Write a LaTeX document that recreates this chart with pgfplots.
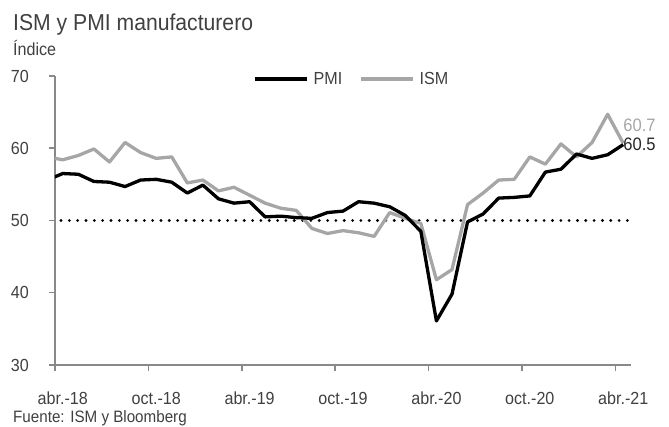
\documentclass[border=0pt]{standalone}
\usepackage{fontspec}
\setmainfont{Liberation Sans}[FakeStretch=0.92]
\usepackage{pgfplots}
\pgfplotsset{compat=1.18}
\definecolor{txt}{HTML}{404040}
\definecolor{ismgray}{HTML}{A6A6A6}
\definecolor{axgray}{HTML}{898989}
\begin{document}
\begin{tikzpicture}
\path[use as bounding box] (0,0) rectangle (669bp,427bp);
\node[anchor=base west,inner sep=0pt,text=txt,font=\fontsize{23bp}{27bp}\selectfont] at (13bp,396.5bp) {ISM y PMI manufacturero};
\node[anchor=base west,inner sep=0pt,text=txt,font=\fontsize{17.5bp}{21bp}\selectfont] at (13bp,371bp) {Índice};
\node[anchor=base west,inner sep=0pt,text=txt,font=\fontsize{16.5bp}{20bp}\selectfont] at (13bp,4.5bp) {Fuente: ISM y Bloomberg};
\begin{axis}[
  at={(55bp,62bp)}, anchor=south west,
  scale only axis, width=576bp, height=289bp,
  xmin=0.5, xmax=37.5, ymin=30, ymax=70,
  axis x line*=bottom, axis y line*=left,
  axis line style={axgray, line width=1.5bp},
  xtick={0.5,6.5,12.5,18.5,24.5,30.5,36.5},
  xticklabels={abr.-18,oct.-18,abr.-19,oct.-19,abr.-20,oct.-20,abr.-21},
  ytick={30,40,50,60,70},
  tick align=outside, major tick length=6bp,
  tick style={axgray, line width=1.5bp},
  /pgf/number format/assume math mode=true,
  xticklabel style={anchor=base, inner sep=0pt, yshift=-33.7bp, xshift=7.8bp, text=txt, font=\fontsize{17.5bp}{21bp}\selectfont},
  yticklabel style={anchor=east, inner sep=0pt, xshift=-20bp, text=txt, font=\fontsize{17.5bp}{21bp}\selectfont},
  legend style={at={(0.344,0.99)}, anchor=west, draw=none, fill=none, inner sep=0pt,
    legend columns=2, font=\fontsize{17.5bp}{21bp}\selectfont, text=txt,
    nodes={inner sep=0pt},
    /tikz/every odd column/.append style={column sep=5bp},
    /tikz/every even column/.append style={column sep=17bp}},
  legend image code/.code={\draw[#1] (0bp,0bp) -- (52bp,0bp);},
]
\addplot[black, line width=3.1bp, dash pattern=on 0bp off 8.33bp, dash phase=2.33bp, line cap=round, forget plot] coordinates {(0.5,50) (37.5,50)};
\addplot[ismgray, line width=3.3bp, line join=round, forget plot] table[row sep=\\] {
x y \\
0 58.8 \\ 1 58.4 \\ 2 59.0 \\ 3 59.9 \\ 4 58.1 \\ 5 60.8 \\ 6 59.4 \\ 7 58.6 \\
8 58.8 \\ 9 55.2 \\ 10 55.6 \\ 11 54.1 \\ 12 54.6 \\ 13 53.5 \\ 14 52.4 \\ 15 51.7 \\
16 51.4 \\ 17 48.9 \\ 18 48.2 \\ 19 48.6 \\ 20 48.3 \\ 21 47.8 \\ 22 51.1 \\ 23 50.3 \\
24 49.6 \\ 25 41.8 \\ 26 43.2 \\ 27 52.2 \\ 28 53.8 \\ 29 55.6 \\ 30 55.7 \\ 31 58.8 \\
32 57.8 \\ 33 60.6 \\ 34 58.8 \\ 35 60.8 \\ 36 64.7 \\ 37 60.7 \\
};
\addplot[black, line width=3.3bp, line join=round, forget plot] table[row sep=\\] {
x y \\
0 55.6 \\ 1 56.5 \\ 2 56.4 \\ 3 55.4 \\ 4 55.3 \\ 5 54.7 \\ 6 55.6 \\ 7 55.7 \\
8 55.3 \\ 9 53.8 \\ 10 54.9 \\ 11 53.0 \\ 12 52.4 \\ 13 52.6 \\ 14 50.5 \\ 15 50.6 \\
16 50.4 \\ 17 50.3 \\ 18 51.1 \\ 19 51.3 \\ 20 52.6 \\ 21 52.4 \\ 22 51.9 \\ 23 50.7 \\
24 48.5 \\ 25 36.1 \\ 26 39.8 \\ 27 49.8 \\ 28 50.9 \\ 29 53.1 \\ 30 53.2 \\ 31 53.4 \\
32 56.7 \\ 33 57.1 \\ 34 59.2 \\ 35 58.6 \\ 36 59.1 \\ 37 60.5 \\
};
\addlegendimage{black, line width=3.3bp}
\addlegendentry{PMI}
\addlegendimage{ismgray, line width=3.3bp}
\addlegendentry{ISM}
\coordinate (l1) at (axis cs:37,63.2);
\coordinate (l2) at (axis cs:37,60.5);
\end{axis}
\node[anchor=west,inner sep=0pt,text=ismgray,font=\fontsize{18bp}{21bp}\selectfont] at (l1) {60.7};
\node[anchor=west,inner sep=0pt,text=black!85,font=\fontsize{18bp}{21bp}\selectfont] at (l2) {60.5};
\end{tikzpicture}
\end{document}
